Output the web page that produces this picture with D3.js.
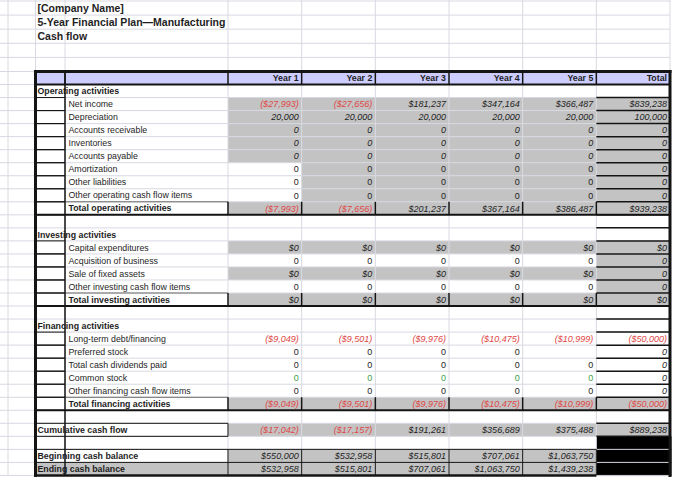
<!DOCTYPE html>
<html>
<head>
<meta charset="utf-8">
<script src="https://cdn.jsdelivr.net/npm/d3@7"></script>
<style>
  html, body { margin: 0; padding: 0; background: #fff; }
  svg { display: block; font-family: "Liberation Sans", Arial, sans-serif; }
</style>
</head>
<body>
<div id="sheet"></div>
<script>
// Titles and column headers
const TITLE_LINES = ['[Company Name]', '5-Year Financial Plan\u2014Manufacturing', 'Cash flow'];
const YEARS = ['Year 1', 'Year 2', 'Year 3', 'Year 4', 'Year 5', 'Total'];
const SECTIONS = ['Operating activities', 'Investing activities', 'Financing activities'];

// Operating activities
const netIncome = [-27993, -27656, 181237, 347164, 366487, 839238];
const depreciation = [20000, 20000, 20000, 20000, 20000, 100000];
const accountsReceivable = [0, 0, 0, 0, 0, 0];
const inventories = [0, 0, 0, 0, 0, 0];
const accountsPayable = [0, 0, 0, 0, 0, 0];
const amortization = [0, 0, 0, 0, 0, 0];
const otherLiabilities = [0, 0, 0, 0, 0, 0];
const otherOperating = [0, 0, 0, 0, 0, 0];
const totalOperating = [-7993, -7656, 201237, 367164, 386487, 939238];

// Investing activities
const capitalExpenditures = [0, 0, 0, 0, 0, 0];
const acquisitionOfBusiness = [0, 0, 0, 0, 0, 0];
const saleOfFixedAssets = [0, 0, 0, 0, 0, 0];
const otherInvesting = [0, 0, 0, 0, 0, 0];
const totalInvesting = [0, 0, 0, 0, 0, 0];

// Financing activities
const longTermDebt = [-9049, -9501, -9976, -10475, -10999, -50000];
const preferredStock = [0, 0, 0, 0, null, 0];
const dividendsPaid = [0, 0, 0, 0, 0, 0];
const commonStock = [0, 0, 0, 0, 0, 0];
const otherFinancing = [0, 0, 0, 0, 0, 0];
const totalFinancing = [-9049, -9501, -9976, -10475, -10999, -50000];

// Summary
const cumulativeCash = [-17042, -17157, 191261, 356689, 375488, 889238];
const beginningCash = [550000, 532958, 515801, 707061, 1063750, null];
const endingCash = [532958, 515801, 707061, 1063750, 1439238, null];

// Sheet layout: fmt '$' currency / 'n' plain, fill g=gray w=white k=black
const rows = [
  { type: 'header' },
  { type: 'section', label: SECTIONS[0] },
  { type: 'item', label: 'Net income', values: netIncome, fmt: '$$$$$$', fill: 'gggggg' },
  { type: 'item', label: 'Depreciation', values: depreciation, fmt: 'nnnnnn', fill: 'gggggg' },
  { type: 'item', label: 'Accounts receivable', values: accountsReceivable, fmt: 'nnnnnn', fill: 'gggggg' },
  { type: 'item', label: 'Inventories', values: inventories, fmt: 'nnnnnn', fill: 'gggggg' },
  { type: 'item', label: 'Accounts payable', values: accountsPayable, fmt: 'nnnnnn', fill: 'gggggg' },
  { type: 'item', label: 'Amortization', values: amortization, fmt: 'nnnnnn', fill: 'wggggg', upright: true },
  { type: 'item', label: 'Other liabilities', values: otherLiabilities, fmt: 'nnnnnn', fill: 'wggggg', upright: true },
  { type: 'item', label: 'Other operating cash flow items', values: otherOperating, fmt: 'nnnnnn', fill: 'wggggg', upright: true },
  { type: 'total', label: 'Total operating activities', values: totalOperating, fmt: '$$$$$$', fill: 'gggggg' },
  { type: 'blank' },
  { type: 'section', label: SECTIONS[1] },
  { type: 'item', label: 'Capital expenditures', values: capitalExpenditures, fmt: '$$$$$$', fill: 'gggggg' },
  { type: 'item', label: 'Acquisition of business', values: acquisitionOfBusiness, fmt: 'nnnnnn', fill: 'wwwwwg' },
  { type: 'item', label: 'Sale of fixed assets', values: saleOfFixedAssets, fmt: '$$$$$n', fill: 'gggggg' },
  { type: 'item', label: 'Other investing cash flow items', values: otherInvesting, fmt: 'nnnnnn', fill: 'wwwwwg' },
  { type: 'total', label: 'Total investing activities', values: totalInvesting, fmt: '$$$$$$', fill: 'gggggg' },
  { type: 'blank' },
  { type: 'section', label: SECTIONS[2] },
  { type: 'item', label: 'Long-term debt/financing', values: longTermDebt, fmt: '$$$$$$', fill: 'wwwwww' },
  { type: 'item', label: 'Preferred stock', values: preferredStock, fmt: 'nnnnnn', fill: 'wwwwww' },
  { type: 'item', label: 'Total cash dividends paid', values: dividendsPaid, fmt: 'nnnnnn', fill: 'wwwwww' },
  { type: 'item', label: 'Common stock', values: commonStock, fmt: 'nnnnnn', fill: 'wwwwww', green: true },
  { type: 'item', label: 'Other financing cash flow items', values: otherFinancing, fmt: 'nnnnnn', fill: 'wwwwww' },
  { type: 'total', label: 'Total financing activities', values: totalFinancing, fmt: '$$$$$$', fill: 'gggggg' },
  { type: 'blank' },
  { type: 'cumulative', label: 'Cumulative cash flow', values: cumulativeCash, fmt: '$$$$$$', fill: 'gggggg' },
  { type: 'blank', fill: 'wwwwwk' },
  { type: 'balance', label: 'Beginning cash balance', values: beginningCash, fmt: '$$$$$$', fill: 'gggggk' },
  { type: 'balance', label: 'Ending cash balance', values: endingCash, fmt: '$$$$$$', fill: 'gggggk', labelFill: true }
];

const W = 700, H = 491;
const GRAY = '#c3c3c3', LAVENDER = '#ccccff', GRID = '#d8d8e2', DARK = '#141414';
const RED = '#e04646', GREEN = '#3c9f48', INK = '#1e1e1e';

const svg = d3.select('#sheet').append('svg')
  .attr('width', W).attr('height', H);
svg.append('rect').attr('width', W).attr('height', H).attr('fill', '#fff');

const colA = 8, colB = 35.5, colC = 65, colEnd = 670;
const x = d3.scaleBand().domain(YEARS).range([228, colEnd]);
const y = d3.scaleBand().domain(d3.range(rows.length)).range([71.5, 71.5 + rows.length * 13.03]);
const yTitle = d3.scaleBand().domain(d3.range(5)).range([1, 71.5]);
const bw = x.bandwidth(), bh = y.bandwidth();
const yEnd = y.range()[1];

const fmtNum = d3.format(',');
function fmtCell(v, kind) {
  if (v == null) return '';
  if (kind === '$') return v < 0 ? '($' + fmtNum(-v) + ')' : '$' + fmtNum(v);
  return fmtNum(v);
}

// Flatten value cells
const cells = [];
rows.forEach(function (r, i) {
  if (!r.fill) return;
  YEARS.forEach(function (yr, j) {
    const v = r.values ? r.values[j] : null;
    const fill = r.fill[j];
    cells.push({
      row: i, col: yr, fill: fill, value: v,
      text: r.values ? fmtCell(v, r.fmt[j]) : '',
      italic: (fill === 'g' && !(r.upright && j < 5)) || j === 5 || (v != null && v < 0),
      color: v != null && v < 0 ? RED : (r.green && j < 5 ? GREEN : INK)
    });
  });
});

// --- fills ---
const fills = svg.append('g');
fills.append('rect')
  .attr('x', colB).attr('y', y(0)).attr('width', colEnd - colB).attr('height', bh)
  .attr('fill', LAVENDER);
fills.selectAll('rect.cell')
  .data(cells.filter(function (d) { return d.fill !== 'w'; }))
  .join('rect')
  .attr('class', 'cell')
  .attr('x', function (d) { return x(d.col); })
  .attr('y', function (d) { return y(d.row); })
  .attr('width', function (d) { return d.fill === 'k' ? bw + 1.5 : bw; })
  .attr('height', function (d) { return d.fill === 'k' ? bh + 0.6 : bh; })
  .attr('fill', function (d) { return d.fill === 'k' ? '#000' : GRAY; });
fills.selectAll('rect.lbl')
  .data(rows.map(function (r, i) { return { r: r, i: i }; }).filter(function (d) { return d.r.labelFill; }))
  .join('rect')
  .attr('class', 'lbl')
  .attr('x', colB).attr('y', function (d) { return y(d.i); })
  .attr('width', x(YEARS[0]) - colB).attr('height', bh)
  .attr('fill', GRAY);

// --- light spreadsheet grid ---
const grid = svg.append('g').attr('stroke', GRID).attr('stroke-width', 1);
const hLines = yTitle.domain().map(yTitle).concat(y.domain().map(y), [yEnd]);
grid.selectAll('line.h').data(hLines).join('line')
  .attr('class', 'h')
  .attr('x1', 0).attr('x2', colEnd)
  .attr('y1', function (d) { return d; }).attr('y2', function (d) { return d; });
const vLines = [colA, colB, colC].concat(YEARS.map(x), [colEnd]);
grid.selectAll('line.v').data(vLines).join('line')
  .attr('class', 'v')
  .attr('x1', function (d) { return d; }).attr('x2', function (d) { return d; })
  .attr('y1', 0).attr('y2', yEnd);

// --- text ---
const txt = svg.append('g').attr('fill', INK);
txt.selectAll('text.title').data(TITLE_LINES).join('text')
  .attr('class', 'title')
  .attr('x', 37.5)
  .attr('y', function (d, i) { return yTitle(i) + yTitle.bandwidth() / 2; })
  .attr('dy', '0.36em')
  .attr('font-size', 10.5).attr('font-weight', 'bold')
  .text(function (d) { return d; });

txt.selectAll('text.year').data(YEARS).join('text')
  .attr('class', 'year')
  .attr('x', function (d) { return x(d) + bw - 3; })
  .attr('y', y(0) + bh / 2)
  .attr('dy', '0.36em')
  .attr('text-anchor', 'end')
  .attr('font-size', 8.8).attr('font-weight', 'bold')
  .text(function (d) { return d; });

const labelled = rows.map(function (r, i) { return { r: r, i: i }; })
  .filter(function (d) { return d.r.label; });
txt.selectAll('text.label').data(labelled).join('text')
  .attr('class', 'label')
  .attr('x', function (d) { return d.r.type === 'item' || d.r.type === 'total' ? colC + 3.5 : colB + 2; })
  .attr('y', function (d) { return y(d.i) + bh / 2; })
  .attr('dy', '0.36em')
  .attr('font-size', 8.8)
  .attr('font-weight', function (d) { return d.r.type === 'item' ? 'normal' : 'bold'; })
  .text(function (d) { return d.r.label; });

txt.selectAll('text.val').data(cells.filter(function (d) { return d.text; })).join('text')
  .attr('class', 'val')
  .attr('x', function (d) { return x(d.col) + bw - 3; })
  .attr('y', function (d) { return y(d.row) + bh / 2; })
  .attr('dy', '0.36em')
  .attr('text-anchor', 'end')
  .attr('font-size', 9)
  .attr('font-style', function (d) { return d.italic ? 'italic' : 'normal'; })
  .attr('fill', function (d) { return d.color; })
  .text(function (d) { return d.text; });

// --- dark borders ---
const segs = [];
function hl(x1, x2, yy, w, c) { segs.push({ x1: x1, x2: x2, y1: yy, y2: yy, w: w, c: c || DARK }); }
function vl(xx, y1, y2, w, c) { segs.push({ x1: xx, x2: xx, y1: y1, y2: y2, w: w, c: c || DARK }); }
const yearEdges = YEARS.map(x);
const totalX = x('Total');

rows.forEach(function (r, i) {
  const top = y(i), bot = y(i) + bh;
  if (r.type === 'item' || r.type === 'total') {
    hl(colB, colC, top, 1);
    hl(colB, colC, bot, 1);
  }
  if (r.type === 'total') {
    hl(colC, x(YEARS[0]), top, 1, '#6a6a6a');
    hl(colB, colEnd, bot, 2);
    yearEdges.forEach(function (e) { vl(e, top, bot, 1.5); });
  }
  if (r.type === 'cumulative') {
    hl(colB, x(YEARS[0]), top, 1);
    hl(colB, x(YEARS[0]), bot, 1);
    vl(x(YEARS[0]), top, bot, 1);
  }
  if (r.type === 'balance') {
    hl(colB, totalX, top, 1);
    yearEdges.forEach(function (e) { vl(e, top, bot, 1); });
  }
  if (i >= 1 && i <= 27) hl(totalX, colEnd, bot, 1.5);
});
hl(colB, totalX, yEnd, 2.5);
hl(colB, colEnd, y(1), 2);
[colC].concat(yearEdges).forEach(function (e) { vl(e, y(0), y(1), 1.5); });
vl(colC, y(0), yEnd, 1.5);
hl(34, colEnd + 1.5, y(0), 3);
vl(colB, y(0) - 1.5, yEnd + 1.5, 3);
vl(colEnd, y(0) - 1.5, yEnd + 1.5, 3);

svg.append('g').selectAll('line').data(segs).join('line')
  .attr('x1', function (d) { return d.x1; }).attr('x2', function (d) { return d.x2; })
  .attr('y1', function (d) { return d.y1; }).attr('y2', function (d) { return d.y2; })
  .attr('stroke', function (d) { return d.c; })
  .attr('stroke-width', function (d) { return d.w; });
</script>
</body>
</html>
